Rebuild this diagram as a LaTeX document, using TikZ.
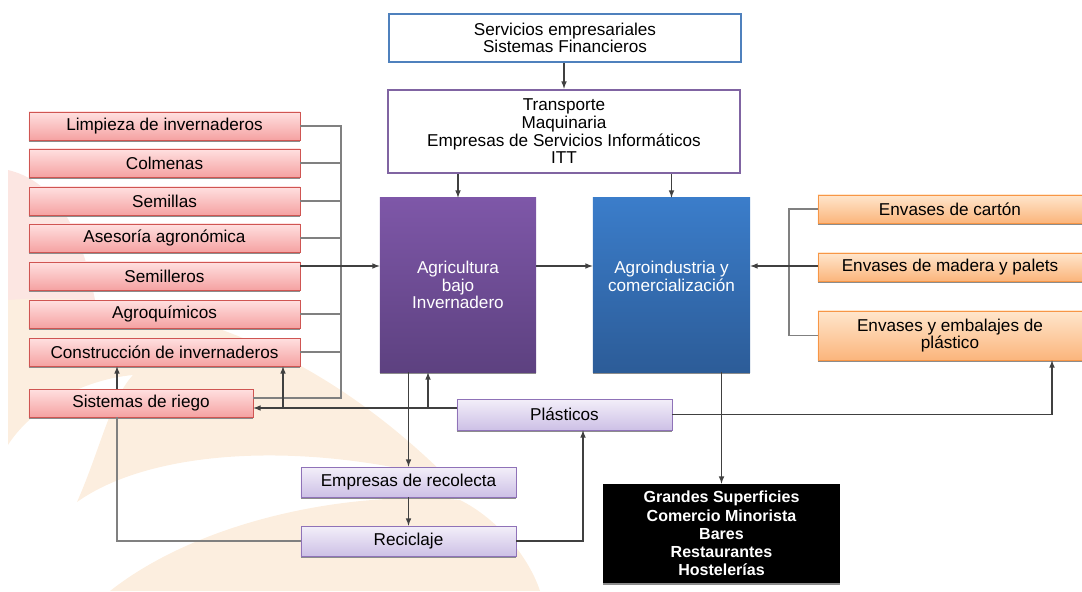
\documentclass[tikz,border=0pt]{standalone}
\usepackage{fontspec}
\setmainfont{Liberation Sans}
\usepackage{tikz}
\usetikzlibrary{calc,shadows}

\definecolor{pinktop}{HTML}{FFE0E0}
\definecolor{pinkbot}{HTML}{F5A2A2}
\definecolor{pinkline}{HTML}{CF5552}
\definecolor{orgtop}{HTML}{FFE6CC}
\definecolor{orgbot}{HTML}{FBB57C}
\definecolor{orgline}{HTML}{F79646}
\definecolor{lavtop}{HTML}{F3EFF9}
\definecolor{lavbot}{HTML}{CDC0E6}
\definecolor{lavline}{HTML}{8F72B8}
\definecolor{agritop}{HTML}{7E57A8}
\definecolor{agribot}{HTML}{5D4180}
\definecolor{agrotop}{HTML}{3B7DCA}
\definecolor{agrobot}{HTML}{2C5C98}
\definecolor{servline}{HTML}{4F81BD}
\definecolor{transline}{HTML}{8064A2}
\definecolor{wmpink}{HTML}{FCE6E2}
\definecolor{wmorange}{HTML}{FCEEDF}

\tikzset{
  base/.style={align=center, inner sep=1pt, font=\fontsize{12.2}{12.6}\selectfont,
    drop shadow={shadow xshift=0pt, shadow yshift=-1.4pt, fill=black!45, opacity=1}},
  supply/.style={base, draw=pinkline, shading=axis, top color=pinktop, bottom color=pinkbot,
    minimum width=6.775cm, minimum height=0.7cm},
  pack/.style={base, draw=orgline, shading=axis, top color=orgtop, bottom color=orgbot,
    minimum width=6.6cm},
  waste/.style={base, draw=lavline, shading=axis, top color=lavtop, bottom color=lavbot,
    minimum width=5.375cm, minimum height=0.75cm},
  sector/.style={base, text=white, minimum height=4.35cm},
  service/.style={align=center, fill=white, line width=1.8pt, minimum width=8.8cm,
    font=\fontsize{12.2}{12.6}\selectfont},
  line/.style={draw=black!50, line width=0.8pt},
  blk/.style={draw=black, line width=0.8pt},
  arr/.style={-latex, draw=black!75, line width=0.8pt}
}

\begin{document}
\begin{tikzpicture}[x=0.025cm, y=-0.025cm]
\useasboundingbox (0,0) rectangle (1082,591);

% watermark
\fill[wmpink] (8,170) .. controls (50,180) and (80,220) .. (95,300) -- (8,300) -- cycle;
\fill[wmorange] (8,300) .. controls (140,290) and (300,330) .. (450,480)
  .. controls (300,440) and (150,450) .. (77,502)
  .. controls (100,450) and (110,400) .. (133,375)
  .. controls (80,380) and (30,410) .. (8,445) -- cycle;
\fill[wmorange] (110,591) .. controls (200,520) and (350,490) .. (460,500)
  .. controls (500,520) and (530,560) .. (540,591) -- cycle;

% services
\node[service, draw=servline, minimum height=1.2cm] (serv) at (565,38)
  {Servicios empresariales\\Sistemas Financieros};
\node[service, draw=transline, minimum height=2.075cm] (trans) at (564,131.5)
  {Transporte\\Maquinaria\\Empresas de Servicios Informáticos\\ITT};

% main sectors
\node[sector, shading=axis, top color=agritop, bottom color=agribot,
  minimum width=3.9cm] (agri) at (458,285) {Agricultura\\bajo\\Invernadero};
\node[sector, shading=axis, top color=agrotop, bottom color=agrobot,
  minimum width=3.925cm] (agro) at (671.5,285) {Agroindustria y\\comercialización\\\mbox{}};

% suppliers
\node[supply] (limp) at (164.5,126) {Limpieza de invernaderos};
\node[supply] (colm) at (164.5,163) {Colmenas};
\node[supply] (semi) at (164.5,201) {Semillas};
\node[supply] (ases) at (164.5,238) {Asesoría agronómica};
\node[supply] (semil) at (164.5,276) {Semilleros};
\node[supply] (agroq) at (164.5,314) {Agroquímicos};
\node[supply] (constr) at (164.5,352) {Construcción de invernaderos};
\node[supply, minimum width=5.6cm] (riego) at (141,403) {Sistemas de riego};

% packaging
\node[pack, minimum height=0.7cm] (cart) at (950,209) {Envases de cartón};
\node[pack, minimum height=0.7cm] (mad) at (950,267) {Envases de madera y palets};
\node[pack, minimum height=1.225cm] (emb) at (950,335.5) {Envases y embalajes de\\plástico};

% waste
\node[waste, minimum height=0.775cm] (plast) at (564.5,414.5) {Plásticos};
\node[waste] (rec) at (408.5,482) {Empresas de recolecta};
\node[waste] (recic) at (408.5,541) {Reciclaje};

% retail
\node[base, fill=black, text=white, font=\fontsize{11.4}{12.9}\selectfont\bfseries,
  minimum width=5.925cm, minimum height=2.475cm] (gran) at (721.5,533.5)
  {Grandes Superficies\\Comercio Minorista\\Bares\\Restaurantes\\Hostelerías};

% helper coordinates
\coordinate (lbus) at (341,0);
\coordinate (rbus) at (789,0);
\coordinate (mid) at (0,266);
\coordinate (plrow) at (0,408);
\coordinate (jr) at (283,408);
\coordinate (ja) at (428,408);
\coordinate (je) at (1052,0);
\coordinate (jp) at (583,0);
\coordinate (jl) at (117,0);

% connectors
\draw[arr] (serv.south -| trans.north) -- (trans.north);
\draw[arr] (trans.south -| agri.north) -- (agri.north);
\draw[arr] (trans.south -| agro.north) -- (agro.north);

\draw[line] ($(riego.east)+(0,-5)$) -| (limp.east -| lbus) -- (limp.east);
\foreach \b in {colm,semi,ases,agroq,constr}
  \draw[line] (\b.east) -- (\b.east -| lbus);
\draw[arr] (semil.east |- mid) -- (agri.west |- mid);
\draw[arr] (agri.east |- mid) -- (agro.west |- mid);

\draw[line] (cart.west) -| (emb.west -| rbus) -- (emb.west);
\draw[arr] (mad.west |- mid) -- (agro.east |- mid);

\draw[blk] (plast.west |- plrow) -- (ja);
\draw[arr] (plast.west |- plrow) -- (riego.east |- plrow);
\draw[arr] (jr) -- (jr |- constr.south);
\draw[arr] (ja) -- (ja |- agri.south);
\draw[arr] (plast.east) -| (je |- emb.south);

\draw[arr] (agri.south -| rec.north) -- (rec.north);
\draw[arr] (rec) -- (recic);
\draw[arr] (recic.east) -| (jp |- plast.south);
\draw[line] (recic.west) -| (jl |- riego.south);
\draw[arr] (jl |- riego.north) -- (jl |- constr.south);
\draw[arr] (agro.south -| gran.north) -- (gran.north);
\end{tikzpicture}
\end{document}
